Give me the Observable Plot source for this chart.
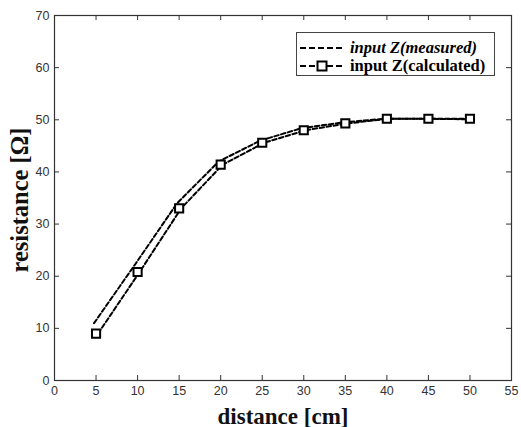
<!DOCTYPE html>
<html><head><meta charset="utf-8">
<script src="https://cdn.jsdelivr.net/npm/d3@7"></script>
<script src="https://cdn.jsdelivr.net/npm/@observablehq/plot@0.6"></script>
<style>
body{margin:0;background:#fff;}
#wrap{position:relative;width:521px;height:427px;}
#legend{position:absolute;left:296px;top:32px;width:199px;height:44px;border:1px solid #444;background:#fff;box-sizing:border-box;font-family:"Liberation Serif","Times New Roman",serif;font-weight:bold;font-size:16.5px;color:#000;}
#legend .row{position:absolute;left:2px;height:18px;display:flex;align-items:center;white-space:nowrap;}
#legend svg{margin-right:4px;}
</style>
</head><body>
<div id="wrap"></div>
<script>
const distance = [5, 10, 15, 20, 25, 30, 35, 40, 45, 50];
const measured = [11.0, 22.4, 34.0, 42.0, 46.0, 48.4, 49.5, 50.2, 50.2, 50.1];
const calculated = [9.0, 20.8, 33.0, 41.4, 45.6, 48.0, 49.3, 50.2, 50.2, 50.2];
const xTicks = [0, 5, 10, 15, 20, 25, 30, 35, 40, 45, 50, 55];
const yTicks = [0, 10, 20, 30, 40, 50, 60, 70];
const seriesNames = ["input Z(measured)", "input Z(calculated)"];

const W = 521, H = 427;
const mL = 54, mR = 10, mT = 15, mB = 47;
const pw = W - mL - mR, ph = H - mT - mB;
const tk = 5;

const meas = distance.map((d, i) => ({x: d, y: measured[i]}));
const calc = distance.map((d, i) => ({x: d, y: calculated[i]}));

const chart = Plot.plot({
  width: W, height: H,
  marginLeft: mL, marginRight: mR, marginTop: mT, marginBottom: mB,
  style: {fontFamily: "'Liberation Sans', Arial, sans-serif", fontSize: "12px", color: "#222", background: "#fff"},
  x: {domain: [0, 55], ticks: xTicks, label: null},
  y: {domain: [0, 70], ticks: yTicks, label: null},
  marks: [
    Plot.frame({stroke: "#333", strokeWidth: 1.2}),
    Plot.tickX(xTicks.slice(1, -1), {x: d => d, insetTop: ph - tk, stroke: "#333"}),
    Plot.tickX(xTicks.slice(1, -1), {x: d => d, insetBottom: ph - tk, stroke: "#333"}),
    Plot.tickY(yTicks.slice(1, -1), {y: d => d, insetRight: pw - tk, stroke: "#333"}),
    Plot.tickY(yTicks.slice(1, -1), {y: d => d, insetLeft: pw - tk, stroke: "#333"}),
    Plot.axisX({ticks: xTicks, tickSize: 0, tickPadding: 6, fill: "#333", fontSize: 12.5}),
    Plot.axisY({ticks: yTicks, tickSize: 0, tickPadding: 5, fill: "#333", fontSize: 12.5}),
    Plot.line(meas, {x: "x", y: "y", stroke: "#000", strokeWidth: 2, strokeDasharray: "4.5,2.5", dx: -2}),
    Plot.line(calc, {x: "x", y: "y", stroke: "#000", strokeWidth: 2, strokeDasharray: "4.5,2.5", dx: 2}),
    Plot.dot(calc, {x: "x", y: "y", symbol: "square", r: 4.6, stroke: "#000", strokeWidth: 2, fill: "#fff"}),
    Plot.text(["distance [cm]"], {frameAnchor: "bottom", dy: 43, fontSize: 23, fontWeight: "bold", fontFamily: "'Liberation Serif', 'Times New Roman', serif", fill: "#111"}),
    Plot.text(["resistance [Ω]"], {frameAnchor: "left", textAnchor: "middle", dx: -34, dy: 2, rotate: -90, fontSize: 24.5, fontWeight: "bold", fontFamily: "'Liberation Serif', 'Times New Roman', serif", fill: "#111"})
  ]
});
const wrap = document.getElementById("wrap");
wrap.appendChild(chart);

const leg = document.createElement("div");
leg.id = "legend";
leg.innerHTML = `
<div class="row" style="top:6px"><svg width="47" height="10"><line x1="1" y1="5" x2="46" y2="5" stroke="#000" stroke-width="2" stroke-dasharray="6,3"/></svg><span style="font-style:italic">${seriesNames[0]}</span></div>
<div class="row" style="top:24px"><svg width="47" height="12"><line x1="1" y1="6" x2="46" y2="6" stroke="#000" stroke-width="2" stroke-dasharray="6,3"/><rect x="18.5" y="1.5" width="9" height="9" fill="#fff" stroke="#000" stroke-width="2"/></svg><span>${seriesNames[1]}</span></div>`;
wrap.appendChild(leg);
</script>
</body></html>
